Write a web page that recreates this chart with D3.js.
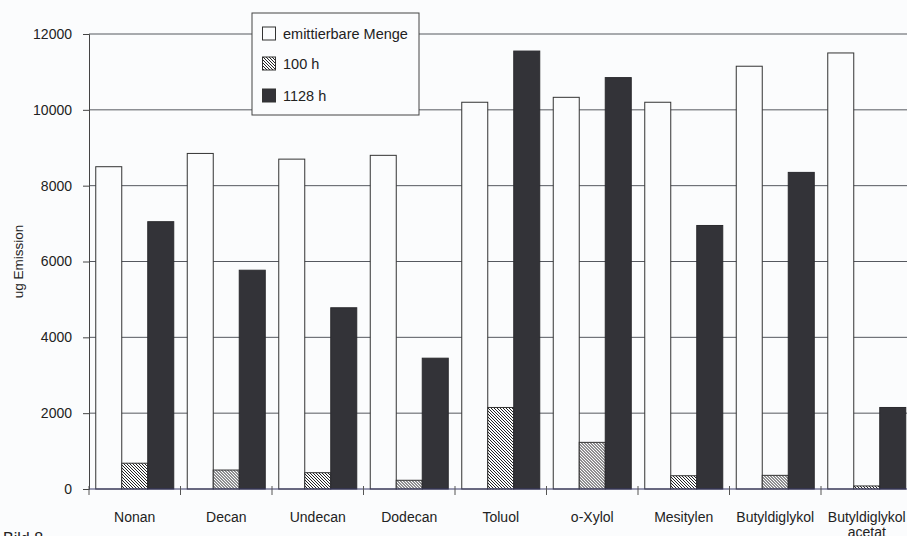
<!DOCTYPE html>
<html><head><meta charset="utf-8">
<script src="https://cdn.jsdelivr.net/npm/d3@7"></script>
<style>
html,body{margin:0;padding:0;background:#fbfcfd;overflow:hidden;}
svg{display:block;font-family:"Liberation Sans",Arial,Helvetica,sans-serif;}
</style></head>
<body>
<svg id="c" width="907" height="536"></svg>
<script>
const categories = ["Nonan","Decan","Undecan","Dodecan","Toluol","o-Xylol","Mesitylen","Butyldiglykol","Butyldiglykol\nacetat"];
const seriesNames = ["emittierbare Menge","100 h","1128 h"];
const emittierbar = [8500, 8850, 8700, 8800, 10200, 10330, 10200, 11150, 11500];
const h100 = [680, 500, 430, 230, 2150, 1230, 350, 360, 80];
const h1128 = [7050, 5770, 4780, 3450, 11550, 10850, 6950, 8350, 2150];
const yTicks = [0, 2000, 4000, 6000, 8000, 10000, 12000];
const yLabel = "ug Emission";
const figLabel = "Bild 8";

(function(){
const seriesValues = [emittierbar, h100, h1128];
const svg = d3.select("#c");
const pLeft = 89, pTop = 34, pBottom = 489, pRight = 912.5;

const defs = svg.append("defs");
const pat = defs.append("pattern").attr("id","hatch").attr("patternUnits","userSpaceOnUse")
  .attr("width",3).attr("height",3);
pat.append("rect").attr("width",3).attr("height",3).attr("fill","#fbfcfd");
pat.append("path").attr("d","M-1,-1 L4,4 M-1,2 L1,4 M2,-1 L4,1")
  .attr("stroke","#222").attr("stroke-width",1);

const fills = ["#fbfcfd","url(#hatch)","#333338"];

const x0 = d3.scaleBand().domain(categories).range([pLeft, pRight]).paddingInner(0).paddingOuter(0);
const x1 = d3.scaleBand().domain(seriesNames).range([6.75, x0.bandwidth()-6.75]).padding(0);
const y = d3.scaleLinear().domain([0, 12000]).range([pBottom, pTop]);

// gridlines
svg.append("g").selectAll("line").data(yTicks.filter(d=>d>0)).join("line")
  .attr("x1", pLeft).attr("x2", 907).attr("y1", d=>y(d)).attr("y2", d=>y(d))
  .attr("stroke","#55585f").attr("stroke-width",1);

// y axis
const yAxis = d3.axisLeft(y).tickValues(yTicks).tickSize(6).tickPadding(11).tickFormat(d3.format("d"));
const gy = svg.append("g").attr("transform",`translate(${pLeft},0)`).call(yAxis);
gy.select(".domain").attr("stroke","#444");
gy.selectAll(".tick line").attr("stroke","#444");
gy.selectAll(".tick text").attr("font-size","14px").attr("fill","#222")
  .attr("font-family","'Liberation Sans',Arial,sans-serif");

// bars
const groups = svg.append("g").selectAll("g").data(categories).join("g")
  .attr("transform", d=>`translate(${x0(d)},0)`);
groups.selectAll("rect").data((d,i)=>seriesNames.map((s,j)=>({s, v:seriesValues[j][i], j})))
  .join("rect")
  .attr("x", d=>x1(d.s)).attr("width", x1.bandwidth())
  .attr("y", d=>y(d.v)).attr("height", d=>pBottom - y(d.v))
  .attr("fill", d=>fills[d.j])
  .attr("stroke", d=>d.j===2 ? "#2a2a2e" : "#333")
  .attr("stroke-width",1);

// x axis
const gx = svg.append("g").attr("transform",`translate(0,${pBottom})`);
gx.append("line").attr("x1",pLeft).attr("x2",907).attr("y1",0).attr("y2",0)
  .attr("stroke","#3a3a6a").attr("stroke-width",1.2);
const boundaries = categories.map(c=>x0(c)).concat([pRight]);
gx.selectAll("line.t").data(boundaries).join("line").attr("class","t")
  .attr("x1",d=>d).attr("x2",d=>d).attr("y1",-3).attr("y2",6)
  .attr("stroke","#555").attr("stroke-width",1);
const lbl = gx.selectAll("text").data(categories).join("text")
  .attr("x", d=>x0(d)+x0.bandwidth()/2).attr("y", 33)
  .attr("text-anchor","middle").attr("font-size","14px").attr("fill","#222");
lbl.each(function(d){
  const parts = d.split("\n");
  const t = d3.select(this);
  parts.forEach((p,k)=>t.append("tspan").attr("x", x0(d)+x0.bandwidth()/2).attr("dy", k===0?0:15).text(p));
});

// y label
svg.append("text").attr("transform",`translate(23,${(pTop+pBottom)/2}) rotate(-90)`)
  .attr("text-anchor","middle").attr("font-size","13.5px").attr("fill","#222").text(yLabel);

// figure label
svg.append("text").attr("x",3).attr("y",544).attr("font-size","16px").attr("fill","#222").text(figLabel);

// legend
const lg = svg.append("g").attr("transform","translate(252,13)");
lg.append("rect").attr("width",167).attr("height",102).attr("fill","#fbfcfd")
  .attr("stroke","#444").attr("stroke-width",1);
const rows = [20.5, 50.5, 82.5];
seriesNames.forEach((s,i)=>{
  lg.append("rect").attr("x",10.5).attr("y",rows[i]-6.5).attr("width",13).attr("height",13)
    .attr("fill",fills[i]).attr("stroke","#333").attr("stroke-width",1);
  lg.append("text").attr("x",31).attr("y",rows[i]+5).attr("font-size","14.5px").attr("fill","#222").text(s);
});
})();
</script>
</body></html>
